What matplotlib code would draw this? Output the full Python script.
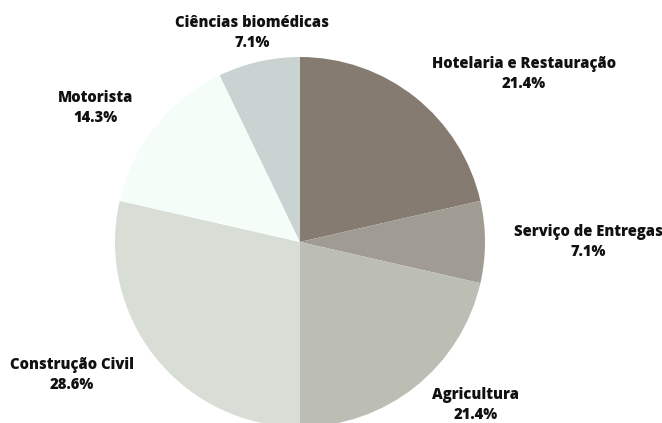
import matplotlib.pyplot as plt

categorias = ['Hotelaria e Restauração', 'Serviço de Entregas', 'Agricultura',
              'Construção Civil', 'Motorista', 'Ciências biomédicas']
valores = [3, 1, 3, 4, 2, 1]
cores = ['#857b71', '#a19c93', '#bcbeb4', '#d8ddd6', '#f5fdf9', '#c9d3d2']

# posicoes dos rotulos em pixels (x, y a partir do topo)
pos_rotulos = [(524, 74), (588, 242), (476, 405), (72, 375), (96, 108), (252, 33)]

fig = plt.figure(figsize=(6.62, 4.23), dpi=100)
ax = fig.add_axes([0, 0, 1, 1])

ax.pie(valores, colors=cores, startangle=90, counterclock=False,
       center=(300, 423 - 242), radius=185, frame=True)
ax.set_xlim(0, 662)
ax.set_ylim(0, 423)
ax.set_aspect('equal')
ax.axis('off')

total = sum(valores)
for nome, v, (x, y) in zip(categorias, valores, pos_rotulos):
    ax.text(x, 423 - y, f'{nome}\n{100 * v / total:.1f}%', ha='center', va='center',
            fontsize=10.6, fontweight='heavy', family='Open Sans', color='#111111',
            linespacing=1.35)

plt.savefig('out.png', dpi=100)
